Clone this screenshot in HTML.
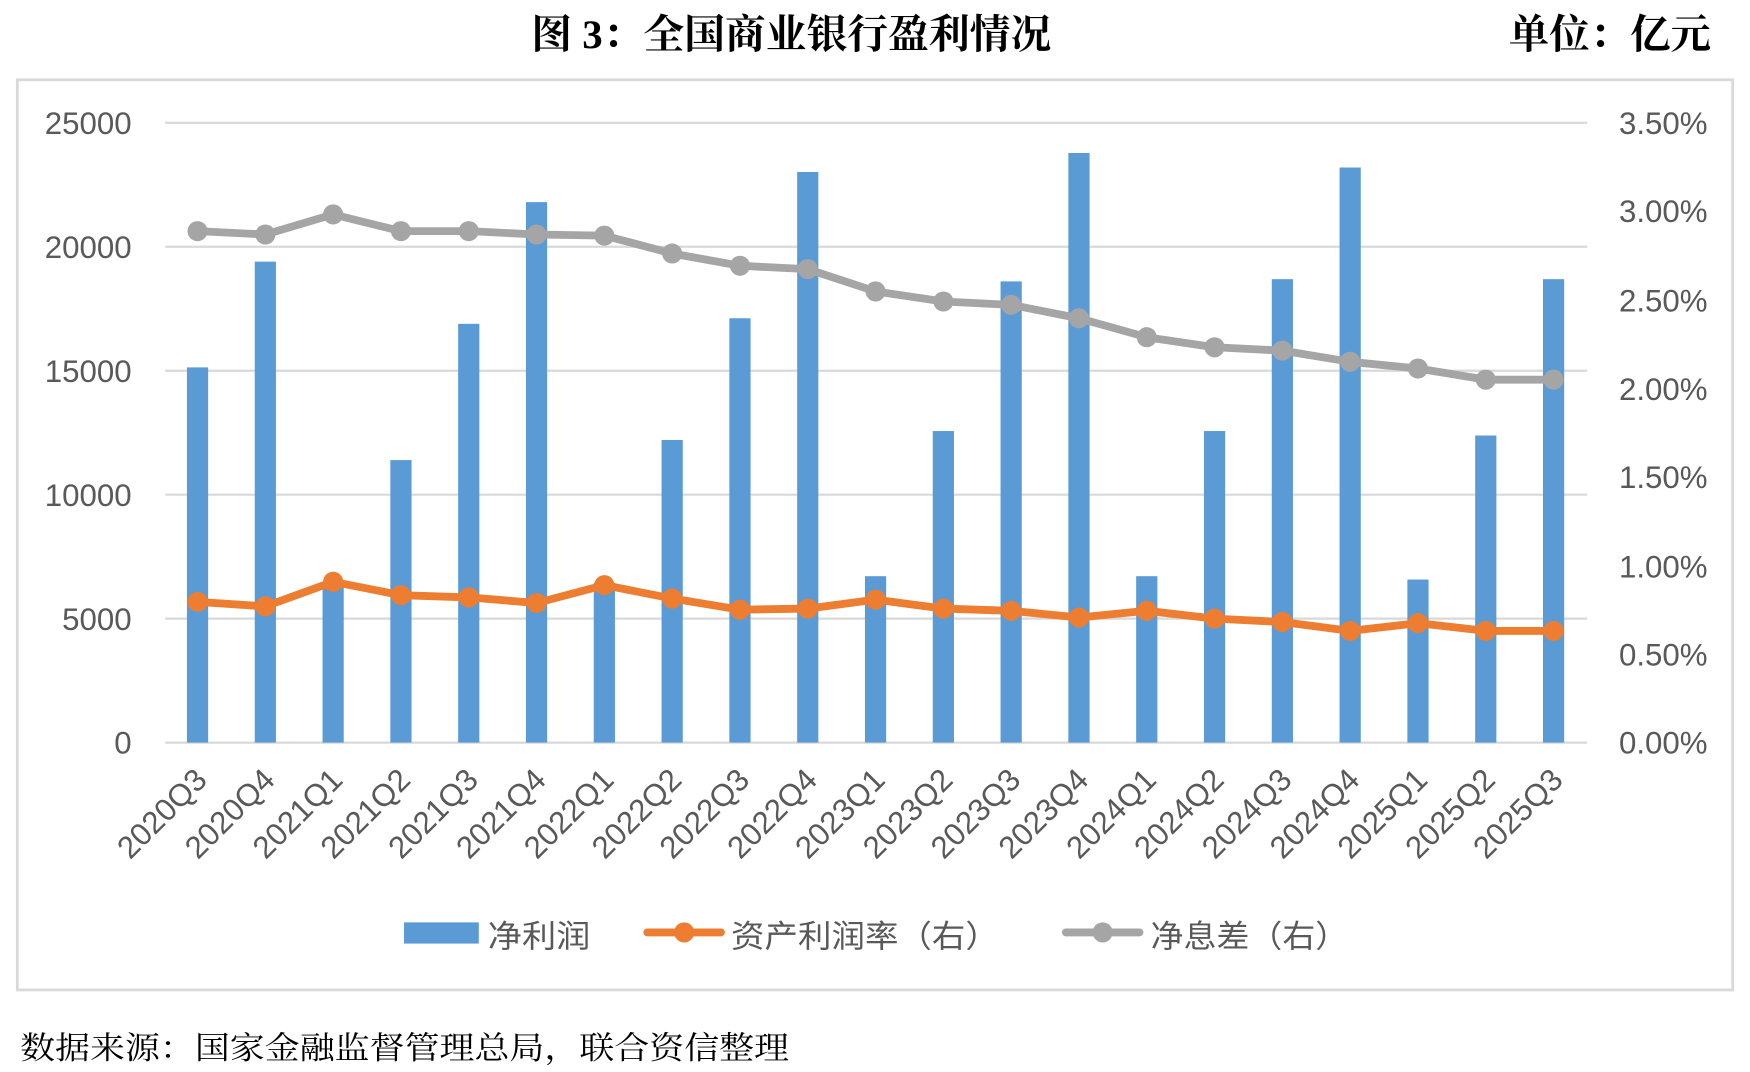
<!DOCTYPE html>
<html><head><meta charset="utf-8"><style>
html,body{margin:0;padding:0;background:#fff;}
svg{display:block;}
.t{font-family:"Liberation Sans","Noto Sans CJK SC",sans-serif;fill:#595959;font-size:28px;}
</style></head><body>
<svg width="1750" height="1072" viewBox="0 0 1568 960" preserveAspectRatio="none" xmlns="http://www.w3.org/2000/svg">
<text x="476" y="43" textLength="466" lengthAdjust="spacingAndGlyphs" font-family="Liberation Serif,'Noto Serif CJK SC',serif" font-weight="bold" font-size="36" fill="#000">图 3：全国商业银行盈利情况</text>
<text x="1352" y="43" textLength="181" lengthAdjust="spacingAndGlyphs" font-family="Liberation Serif,'Noto Serif CJK SC',serif" font-weight="bold" font-size="36" fill="#000">单位：亿元</text>
<rect x="15.5" y="71.5" width="1537" height="815" fill="#fff" stroke="#d9d9d9" stroke-width="2.5"/>
<g stroke="#d9d9d9" stroke-width="2">
<line x1="148" x2="1422" y1="110" y2="110"/><line x1="148" x2="1422" y1="221" y2="221"/><line x1="148" x2="1422" y1="332" y2="332"/><line x1="148" x2="1422" y1="443" y2="443"/><line x1="148" x2="1422" y1="554" y2="554"/><line x1="148" x2="1422" y1="665" y2="665"/>
</g>
<g class="t" text-anchor="end">
<text x="118" y="120">25000</text><text x="118" y="231">20000</text><text x="118" y="342">15000</text><text x="118" y="453">10000</text><text x="118" y="564">5000</text><text x="118" y="675">0</text>
</g>
<g class="t" text-anchor="end">
<text x="1530" y="120">3.50%</text><text x="1530" y="199">3.00%</text><text x="1530" y="279">2.50%</text><text x="1530" y="358">2.00%</text><text x="1530" y="437">1.50%</text><text x="1530" y="517">1.00%</text><text x="1530" y="596">0.50%</text><text x="1530" y="675">0.00%</text>
</g>
<g fill="#5b9bd5">
<rect x="167.5" y="329" width="19" height="336"/>
<rect x="228.25" y="234.3" width="19" height="430.7"/>
<rect x="289" y="523" width="19" height="142"/>
<rect x="349.75" y="412" width="19" height="253"/>
<rect x="410.5" y="290" width="19" height="375"/>
<rect x="471.25" y="181" width="19" height="484"/>
<rect x="532" y="522" width="19" height="143"/>
<rect x="592.75" y="394" width="19" height="271"/>
<rect x="653.5" y="285" width="19" height="380"/>
<rect x="714.25" y="154" width="19" height="511"/>
<rect x="775" y="516" width="19" height="149"/>
<rect x="835.75" y="386" width="19" height="279"/>
<rect x="896.5" y="252" width="19" height="413"/>
<rect x="957.25" y="137" width="19" height="528"/>
<rect x="1018" y="516" width="19" height="149"/>
<rect x="1078.75" y="386" width="19" height="279"/>
<rect x="1139.5" y="250" width="19" height="415"/>
<rect x="1200.25" y="150" width="19" height="515"/>
<rect x="1261" y="519" width="19" height="146"/>
<rect x="1321.75" y="390" width="19" height="275"/>
<rect x="1382.5" y="250" width="19" height="415"/>
</g>
<g fill="#ed7d31">
<polyline fill="none" stroke="#ed7d31" stroke-width="7" stroke-linejoin="round" points="177,539 237.75,543 298.5,521 359.25,533 420,535 480.75,540 541.5,524 602.25,536 663,546 723.75,545 784.5,537 845.25,545 906,547 966.75,553 1027.5,547 1088.25,554 1149,557 1209.75,565 1270.5,558 1331.25,565 1392,565"/>
<circle cx="177" cy="539" r="9"/><circle cx="237.75" cy="543" r="9"/><circle cx="298.5" cy="521" r="9"/><circle cx="359.25" cy="533" r="9"/><circle cx="420" cy="535" r="9"/><circle cx="480.75" cy="540" r="9"/><circle cx="541.5" cy="524" r="9"/><circle cx="602.25" cy="536" r="9"/><circle cx="663" cy="546" r="9"/><circle cx="723.75" cy="545" r="9"/><circle cx="784.5" cy="537" r="9"/><circle cx="845.25" cy="545" r="9"/><circle cx="906" cy="547" r="9"/><circle cx="966.75" cy="553" r="9"/><circle cx="1027.5" cy="547" r="9"/><circle cx="1088.25" cy="554" r="9"/><circle cx="1149" cy="557" r="9"/><circle cx="1209.75" cy="565" r="9"/><circle cx="1270.5" cy="558" r="9"/><circle cx="1331.25" cy="565" r="9"/><circle cx="1392" cy="565" r="9"/>
</g>
<g fill="#a5a5a5">
<polyline fill="none" stroke="#a5a5a5" stroke-width="7" stroke-linejoin="round" points="177,207 237.75,210 298.5,192 359.25,207 420,207 480.75,210 541.5,211 602.25,227 663,238 723.75,241 784.5,261 845.25,270 906,273 966.75,285 1027.5,302 1088.25,311 1149,314 1209.75,324 1270.5,330 1331.25,340 1392,340"/>
<circle cx="177" cy="207" r="9"/><circle cx="237.75" cy="210" r="9"/><circle cx="298.5" cy="192" r="9"/><circle cx="359.25" cy="207" r="9"/><circle cx="420" cy="207" r="9"/><circle cx="480.75" cy="210" r="9"/><circle cx="541.5" cy="211" r="9"/><circle cx="602.25" cy="227" r="9"/><circle cx="663" cy="238" r="9"/><circle cx="723.75" cy="241" r="9"/><circle cx="784.5" cy="261" r="9"/><circle cx="845.25" cy="270" r="9"/><circle cx="906" cy="273" r="9"/><circle cx="966.75" cy="285" r="9"/><circle cx="1027.5" cy="302" r="9"/><circle cx="1088.25" cy="311" r="9"/><circle cx="1149" cy="314" r="9"/><circle cx="1209.75" cy="324" r="9"/><circle cx="1270.5" cy="330" r="9"/><circle cx="1331.25" cy="340" r="9"/><circle cx="1392" cy="340" r="9"/>
</g>
<g class="t" text-anchor="end">
<text transform="translate(187,700) rotate(-45)">2020Q3</text>
<text transform="translate(247.75,700) rotate(-45)">2020Q4</text>
<text transform="translate(308.5,700) rotate(-45)">2021Q1</text>
<text transform="translate(369.25,700) rotate(-45)">2021Q2</text>
<text transform="translate(430,700) rotate(-45)">2021Q3</text>
<text transform="translate(490.75,700) rotate(-45)">2021Q4</text>
<text transform="translate(551.5,700) rotate(-45)">2022Q1</text>
<text transform="translate(612.25,700) rotate(-45)">2022Q2</text>
<text transform="translate(673,700) rotate(-45)">2022Q3</text>
<text transform="translate(733.75,700) rotate(-45)">2022Q4</text>
<text transform="translate(794.5,700) rotate(-45)">2023Q1</text>
<text transform="translate(855.25,700) rotate(-45)">2023Q2</text>
<text transform="translate(916,700) rotate(-45)">2023Q3</text>
<text transform="translate(976.75,700) rotate(-45)">2023Q4</text>
<text transform="translate(1037.5,700) rotate(-45)">2024Q1</text>
<text transform="translate(1098.25,700) rotate(-45)">2024Q2</text>
<text transform="translate(1159,700) rotate(-45)">2024Q3</text>
<text transform="translate(1219.75,700) rotate(-45)">2024Q4</text>
<text transform="translate(1280.5,700) rotate(-45)">2025Q1</text>
<text transform="translate(1341.25,700) rotate(-45)">2025Q2</text>
<text transform="translate(1402,700) rotate(-45)">2025Q3</text>
</g>
<rect x="362" y="826" width="67" height="19" fill="#5b9bd5"/>
<text x="437" y="848" class="t" font-size="32" textLength="92" lengthAdjust="spacingAndGlyphs">净利润</text>
<line x1="580" x2="646" y1="835" y2="835" stroke="#ed7d31" stroke-width="7" stroke-linecap="round"/>
<circle cx="613" cy="835" r="9" fill="#ed7d31"/>
<text x="655" y="848" class="t" font-size="32" textLength="240" lengthAdjust="spacingAndGlyphs">资产利润率（右）</text>
<line x1="955" x2="1021" y1="835" y2="835" stroke="#a5a5a5" stroke-width="7" stroke-linecap="round"/>
<circle cx="988" cy="835" r="9" fill="#a5a5a5"/>
<text x="1031" y="848" class="t" font-size="32" textLength="177" lengthAdjust="spacingAndGlyphs">净息差（右）</text>
<text x="18" y="948" textLength="689" lengthAdjust="spacingAndGlyphs" font-family="Liberation Serif,'Noto Serif CJK SC',serif" font-size="28" fill="#000">数据来源：国家金融监督管理总局，联合资信整理</text>
</svg>
</body></html>
